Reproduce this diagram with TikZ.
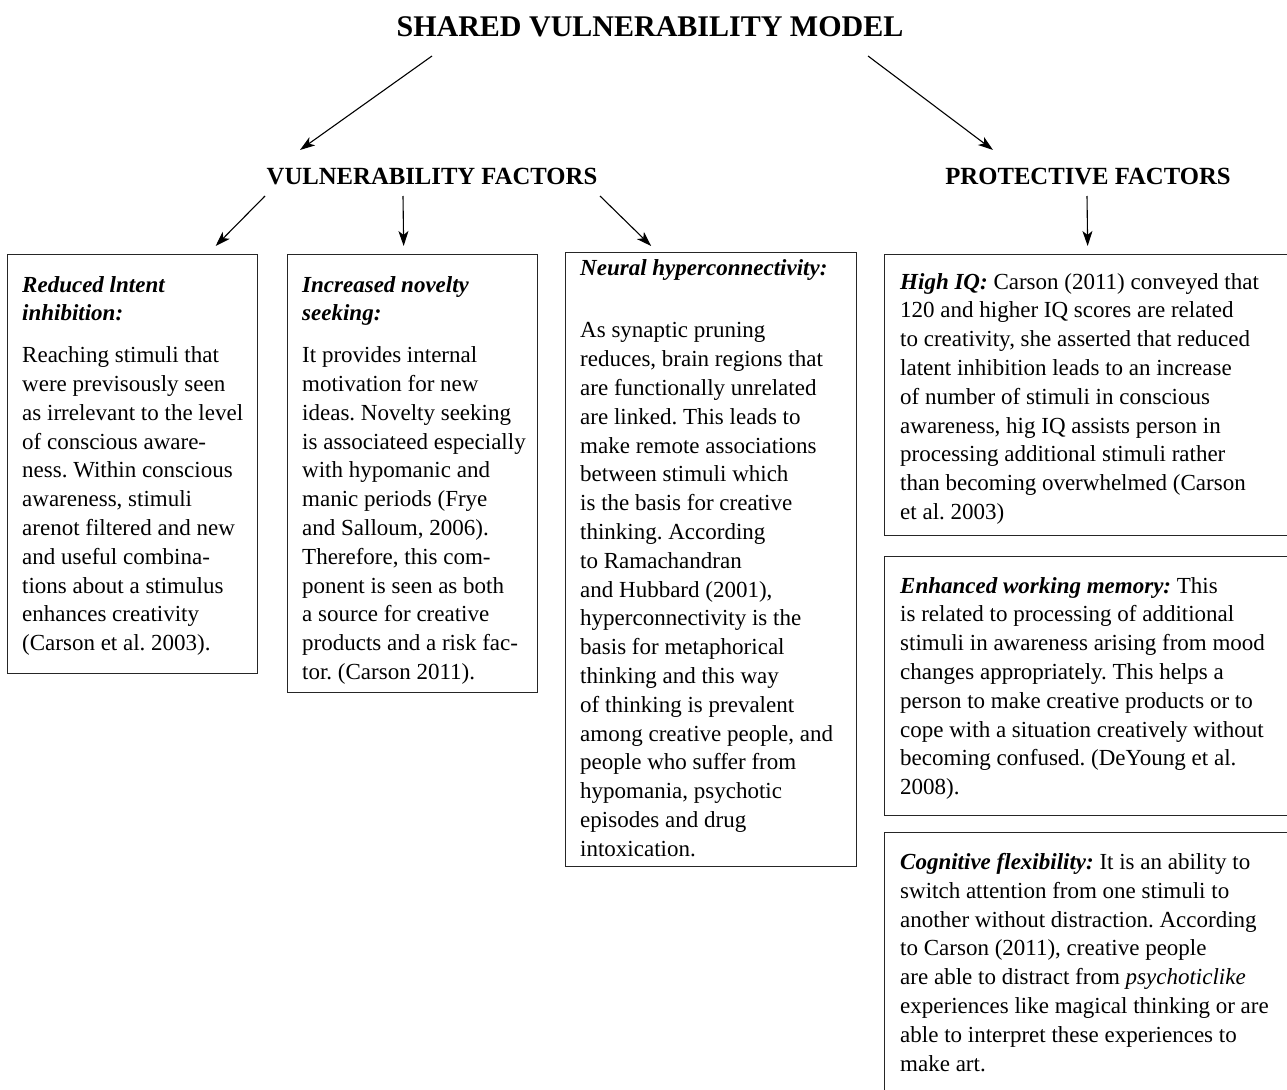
\documentclass[tikz,border=0pt]{standalone}
\usepackage{fontspec}
\setmainfont{Liberation Serif}
\usetikzlibrary{arrows.meta, positioning}
\frenchspacing
\newcommand{\factorname}[1]{\textbf{\textit{#1}}}
\tikzset{
  heading/.style={
    font=\bfseries\fontsize{30}{34}\selectfont, inner sep=0pt
  },
  subheading/.style={
    font=\bfseries\fontsize{24.7}{28}\selectfont, inner sep=0pt
  },
  factor/.style={
    rectangle, draw=black!85, line width=1.3pt, anchor=north west,
    inner sep=0pt
  },
  blurb/.style={
    anchor=north west, inner sep=0pt, align=left,
    font=\fontsize{23}{28.8}\selectfont
  },
  arrow/.style={
    -{Stealth[length=15pt,width=10pt,inset=4pt]}, line width=1.1pt
  }
}

\begin{document}
\begin{tikzpicture}[x=1pt, y=-1pt]
\path[use as bounding box, fill=white] (0,0) rectangle (1287,1089);

\node[heading] (svm) at (650,27) {SHARED VULNERABILITY MODEL};
\node[subheading] (vuln) at (432,177) {VULNERABILITY FACTORS};
\node[subheading] (prot) at (1088,177) {PROTECTIVE FACTORS};

\node[factor, minimum width=250pt, minimum height=419pt] (latent) at (7,254) {};
\node[factor, minimum width=250pt, minimum height=438pt] (novelty) at (287,254) {};
\node[factor, minimum width=291pt, minimum height=614pt] (neural) at (565,252) {};
\node[factor, minimum width=408pt, minimum height=281pt] (iq) at (884,254) {};
\node[factor, minimum width=408pt, minimum height=259pt] (memory) at (884,556) {};
\node[factor, minimum width=408pt, minimum height=268pt] (flex) at (884,832) {};

\node[blurb] (latentText) at ([shift={(15pt,-22pt)}]latent.north west) {%
\factorname{Reduced lntent}\\
\factorname{inhibition:}\\[13pt]
Reaching stimuli that\\
were previsously seen\\
as irrelevant to the level\\
of conscious aware-\\
ness. Within conscious\\
awareness, stimuli\\
arenot filtered and new\\
and useful combina-\\
tions about a stimulus\\
enhances creativity\\
(Carson et al. 2003).};

\node[blurb] (noveltyText) at ([shift={(15pt,-22pt)}]novelty.north west) {%
\factorname{Increased novelty}\\
\factorname{seeking:}\\[13pt]
It provides internal\\
motivation for new\\
ideas. Novelty seeking\\
is associateed especially\\
with hypomanic and\\
manic periods (Frye\\
and Salloum, 2006).\\
Therefore, this com-\\
ponent is seen as both\\
a source for creative\\
products and a risk fac-\\
tor. (Carson 2011).};

\node[blurb] (neuralText) at ([shift={(15pt,-7pt)}]neural.north west) {%
\factorname{Neural hyperconnectivity:}\\[34pt]
As synaptic pruning\\
reduces, brain regions that\\
are functionally unrelated\\
are linked. This leads to\\
make remote associations\\
between stimuli which\\
is the basis for creative\\
thinking. According\\
to Ramachandran\\
and Hubbard (2001),\\
hyperconnectivity is the\\
basis for metaphorical\\
thinking and this way\\
of thinking is prevalent\\
among creative people, and\\
people who suffer from\\
hypomania, psychotic\\
episodes and drug\\
intoxication.};

\node[blurb] (iqText) at ([shift={(16pt,-19pt)}]iq.north west) {%
\factorname{High IQ:} Carson (2011) conveyed that\\
120 and higher IQ scores are related\\
to creativity, she asserted that reduced\\
latent inhibition leads to an increase\\
of number of stimuli in conscious\\
awareness, hig IQ assists person in\\
processing additional stimuli rather\\
than becoming overwhelmed (Carson\\
et al. 2003)};

\node[blurb] (memoryText) at ([shift={(16pt,-21pt)}]memory.north west) {%
\factorname{Enhanced working memory:} This\\
is related to processing of additional\\
stimuli in awareness arising from mood\\
changes appropriately. This helps a\\
person to make creative products or to\\
cope with a situation creatively without\\
becoming confused. (DeYoung et al.\\
2008).};

\node[blurb] (flexText) at ([shift={(16pt,-21pt)}]flex.north west) {%
\factorname{Cognitive flexibility:} It is an ability to\\
switch attention from one stimuli to\\
another without distraction. According\\
to Carson (2011), creative people\\
are able to distract from \textit{psychoticlike}\\
experiences like magical thinking or are\\
able to interpret these experiences to\\
make art.};

\draw[arrow] ([xshift=-218pt, yshift=-29pt]svm.center) -- ([xshift=-132pt, yshift=27pt]vuln.center);
\draw[arrow] ([xshift=218pt, yshift=-29pt]svm.center) -- ([xshift=-95pt, yshift=27pt]prot.center);
\draw[arrow] ([xshift=-167pt, yshift=-19pt]vuln.center) -- ([xshift=83pt, yshift=8pt]latent.north);
\draw[arrow] ([xshift=-29pt, yshift=-19pt]vuln.center) -- ([xshift=-9pt, yshift=8pt]novelty.north);
\draw[arrow] ([xshift=168pt, yshift=-19pt]vuln.center) -- ([xshift=-60pt, yshift=6pt]neural.north);
\draw[arrow] ([xshift=-1pt, yshift=-19pt]prot.center) -- ([xshift=-1pt, yshift=8pt]iq.north);
\end{tikzpicture}
\end{document}
